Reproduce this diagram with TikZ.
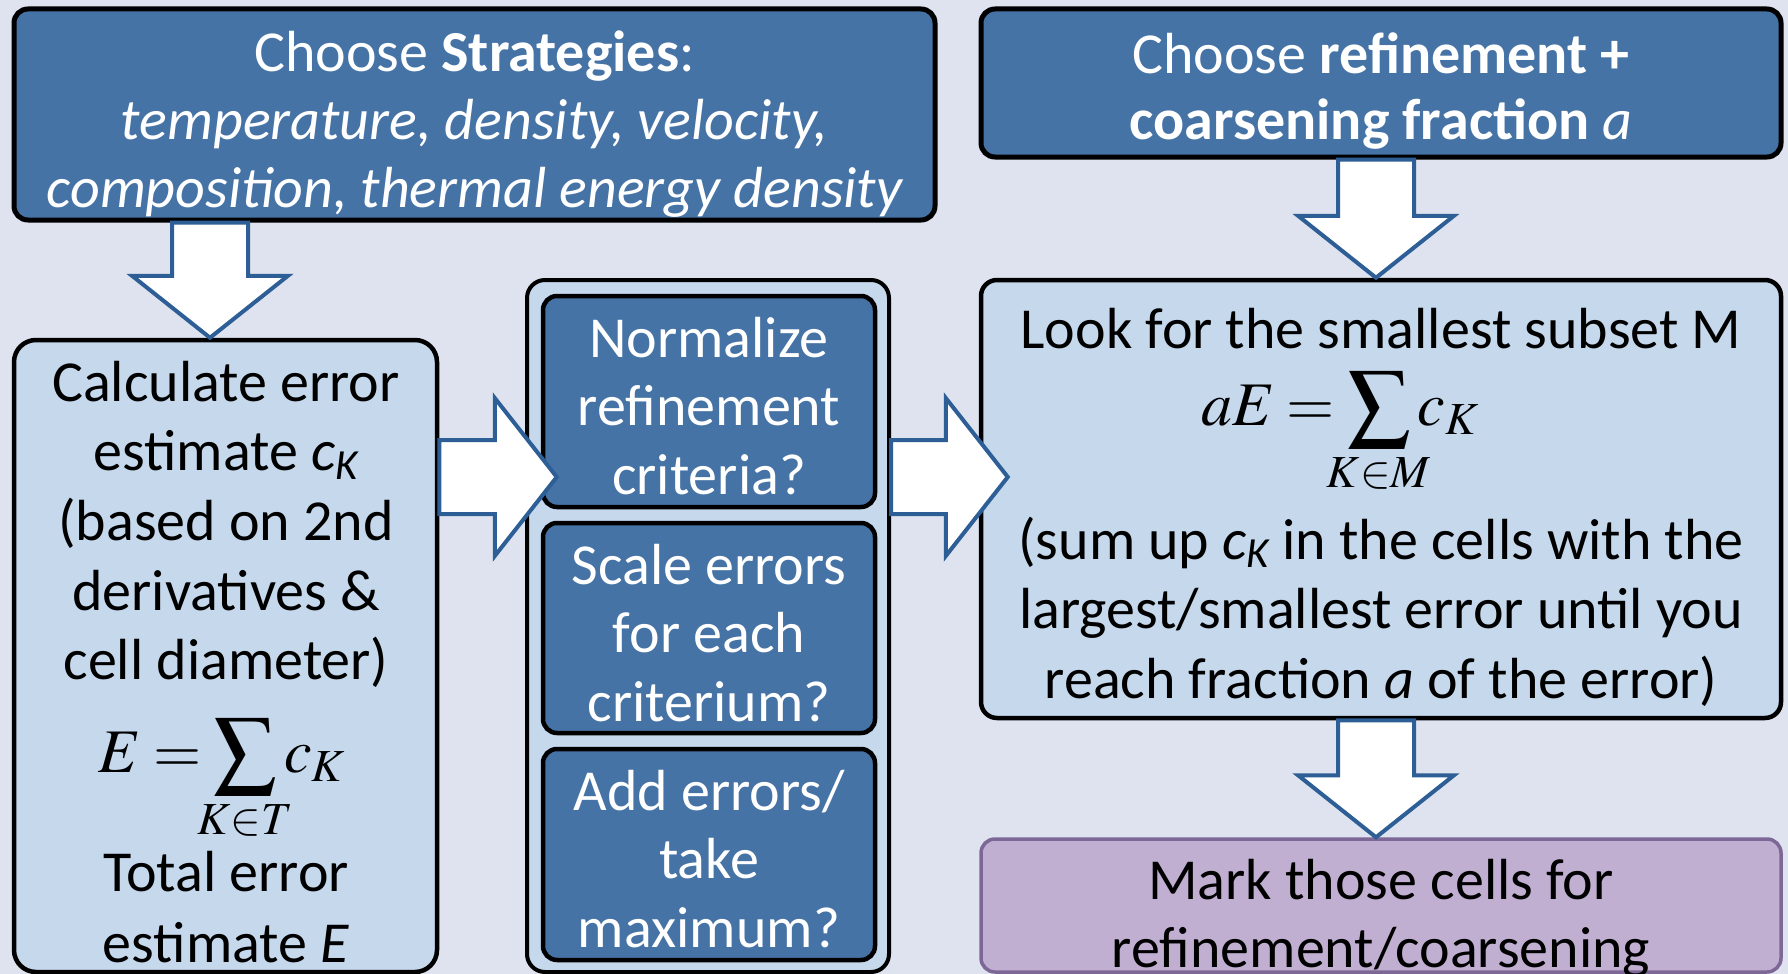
\documentclass[tikz,border=0pt]{standalone}
\usepackage{mathptmx}
\usepackage{fontspec}
\setmainfont{Carlito}
\usetikzlibrary{calc}
\definecolor{bg}{HTML}{DEE3EF}
\definecolor{dblue}{HTML}{4673A5}
\definecolor{lblue}{HTML}{C5D8EC}
\definecolor{purp}{HTML}{C0AFD1}
\definecolor{purpline}{HTML}{7D6797}
\definecolor{arrline}{HTML}{2D5E95}
\newcommand\mylines[1]{\begin{tabular}[t]{@{}c@{}}#1\end{tabular}}
\newcommand\mysub[1]{\hbox to 0pt{\hss$\scriptstyle #1$\hss}}
\newcommand\tightmath{\thickmuskip=3.5mu\relax\thinmuskip=2mu\relax}
\newcommand\blkdown[2]{\draw[barrow] ($(#1)+(-38,0)$) -- ($(#2)+(-38,-62)$) -- ($(#2)+(-78,-62)$) -- (#2) -- ($(#2)+(78,-62)$) -- ($(#2)+(38,-62)$) -- ($(#1)+(38,0)$) -- cycle;}
\newcommand\blkright[2]{\draw[barrow] ($(#1)+(0,-37)$) -- ($(#2)+(-62,-37)$) -- ($(#2)+(-62,-79)$) -- (#2) -- ($(#2)+(-62,79)$) -- ($(#2)+(-62,37)$) -- ($(#1)+(0,37)$) -- cycle;}
\tikzset{
  darkbox/.style={draw=black, line width=5pt, fill=dblue, rounded corners=14pt, inner sep=0pt},
  lightbox/.style={draw=black, line width=4.5pt, fill=lblue, rounded corners=22pt, inner sep=0pt},
  purpbox/.style={draw=purpline, line width=3.5pt, fill=purp, rounded corners=14pt, inner sep=0pt},
  txt/.style={anchor=base, inner sep=0pt},
  wtxt/.style={txt, text=white},
  mathtxt/.style={anchor=base, inner sep=0pt, font=\fontsize{62}{70}\selectfont},
  barrow/.style={draw=arrline, line width=4pt, fill=white, line join=miter},
}
\begin{document}
\begin{tikzpicture}[x=1pt, y=-1pt]
\useasboundingbox (0,0) rectangle (1788,974);
\clip (0,0) rectangle (1788,974);
\fill[bg] (0,0) rectangle (1788,974);

% boxes
\node[darkbox, minimum width=921pt, minimum height=211pt] (tl) at (474.5,114.5) {};
\node[darkbox, minimum width=800pt, minimum height=148pt] (tr) at (1381,83) {};
\node[lightbox, minimum width=423pt, minimum height=632pt] (lb) at (225.5,656) {};
\node[lightbox, line width=4pt, rounded corners=18pt, minimum width=362pt, minimum height=692pt] (mc) at (708,626) {};
\node[darkbox, line width=4.5pt, minimum width=332pt, minimum height=211pt] (n1) at (709,401.5) {};
\node[darkbox, line width=4.5pt, minimum width=332pt, minimum height=210pt] (n2) at (709,628) {};
\node[darkbox, line width=4.5pt, minimum width=332pt, minimum height=211pt] (n3) at (709,854.5) {};
\node[lightbox, rounded corners=16pt, minimum width=800pt, minimum height=438pt] (rb) at (1381,499) {};
\node[purpbox, minimum width=800pt, minimum height=133pt] (pb) at (1381,905.5) {};

% texts
\node[wtxt, font=\fontsize{58}{68}\selectfont] (tlT) at (474.5,71) {\mylines{Choose \textbf{Strategies}:\\ \itshape temperature, density, velocity,\\ \itshape composition, thermal energy density}};
\node[wtxt, font=\fontsize{58}{66}\selectfont] (trT) at (1381,74) {\mylines{Choose \textbf{refinement +}\\ \textbf{coarsening fraction} \textit{a}}};
\node[txt, font=\fontsize{58}{69.7}\selectfont] (lbT) at (226,401) {\mylines{Calculate error\\ estimate \textit{c}\textsubscript{\itshape K}\\ (based on 2nd\\ derivatives \&\\ cell diameter)}};
\node[mathtxt] (lbM) at (222,772) {$\tightmath\displaystyle E=\sum_{\mysub{K\in T}}c_K$};
\node[txt, font=\fontsize{58}{71}\selectfont] (lbT2) at (226,891) {\mylines{Total error\\ estimate \textit{E}}};
\node[wtxt, font=\fontsize{58}{68.5}\selectfont] (n1T) at (709,357) {\mylines{Normalize\\ refinement\\ criteria?}};
\node[wtxt, font=\fontsize{58}{68.5}\selectfont] (n2T) at (709,584) {\mylines{Scale errors\\ for each\\ criterium?}};
\node[wtxt, font=\fontsize{58}{68.5}\selectfont] (n3T) at (709,810) {\mylines{Add errors/\\ take\\ maximum?}};
\node[txt, font=\fontsize{58}{70}\selectfont] (rbT) at (1381,348) {Look for the smallest subset M};
\node[mathtxt] (rbM) at (1340,425) {$\tightmath\displaystyle aE=\sum_{\mysub{K\in M}}c_K$};
\node[txt, font=\fontsize{58}{69.5}\selectfont] (rbT2) at (1381,559) {\mylines{(sum up \textit{c}\textsubscript{\itshape K} in the cells with the\\ largest/smallest error until you\\ reach fraction \textit{a} of the error)}};
\node[txt, font=\fontsize{58}{68}\selectfont] (pbT) at (1381,899) {\mylines{Mark those cells for\\ refinement/coarsening}};

% block arrows
\coordinate (xa) at (210,0);
\coordinate (xb) at (1376,0);
\coordinate (ya) at (0,477);
\coordinate (t1) at ($(n1.west |- ya)+(16,0)$);
\coordinate (t2) at ($(rb.west |- ya)+(29,0)$);
\blkdown{tl.south -| xa}{lb.north -| xa}
\blkdown{tr.south -| xb}{rb.north -| xb}
\blkdown{rb.south -| xb}{pb.north -| xb}
\blkright{lb.east |- ya}{t1}
\blkright{mc.east |- ya}{t2}
\end{tikzpicture}
\end{document}
